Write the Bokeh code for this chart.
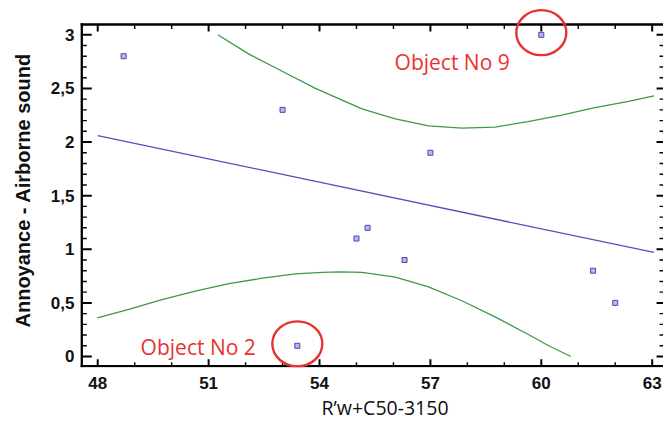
from bokeh.plotting import figure
from bokeh.models import Range1d, FixedTicker, Title
from bokeh.embed import file_html
from bokeh.resources import INLINE
from bokeh.core.properties import value

# ---------------- data ----------------
x_obs = [48.7, 53.0, 60.0, 57.0, 55.0, 55.3, 56.3, 61.4, 62.0, 53.4]
y_obs = [2.8, 2.3, 3.0, 1.9, 1.1, 1.2, 0.9, 0.8, 0.5, 0.1]

reg_x = [48.0, 63.05]
reg_y = [2.06, 0.97]

upper_x = [51.25, 52.09, 52.99, 53.89, 55.15, 56.05, 56.95, 57.85, 58.75,
           59.64, 60.55, 61.45, 62.36, 63.05]
upper_y = [3.0, 2.82, 2.66, 2.50, 2.31, 2.215, 2.15, 2.13, 2.14,
           2.19, 2.25, 2.32, 2.38, 2.43]

lower_x = [47.99, 48.84, 49.74, 50.64, 51.55, 52.45, 53.35, 54.07, 54.6,
           55.15, 56.05, 56.95, 57.85, 58.75, 59.65, 60.2, 60.8]
lower_y = [0.36, 0.44, 0.53, 0.61, 0.68, 0.73, 0.77, 0.785, 0.79,
           0.785, 0.74, 0.65, 0.52, 0.37, 0.205, 0.10, 0.0]

x_ticks = [48, 51, 54, 57, 60, 63]
x_tick_labels = ["48", "51", "54", "57", "60", "63"]
x_minor = [t for t in range(48, 64) if t not in x_ticks]
y_ticks = [0, 0.5, 1, 1.5, 2, 2.5, 3]
y_tick_labels = ["0", "0,5", "1", "1,5", "2", "2,5", "3"]
y_minor = [round(i / 10, 1) for i in range(0, 31) if i % 5 != 0]

x_title = "R\u2019w+C50-3150"
y_title = "Annoyance - Airborne sound"

callout_text = ["Object No 9", "Object No 2"]
callout_x = [56.03, 49.16]
callout_y = [2.751, 0.087]
circle_x = [60.0, 53.40]
circle_y = [3.02, 0.118]

# ---------------- layout (pixels of the 663x425 page) ----------------
W, H = 663, 425
FL, FR, FT, FB = 77, 663, 0, 367          # plot frame box
X_LO, X_HI = 47.507, 63.306
Y_LO, Y_HI = -0.1026, 3.320
PXX = (FR - FL) / (X_HI - X_LO)
PXY = (FB - FT) / (Y_HI - Y_LO)

BOX_L, BOX_T, BOX_B, BOX_R = 79.3, 24.0, 365.7, 663.0
BW = 2.3


def dx(px):
    return X_LO + (px - FL) / PXX


def dy(py):
    return Y_HI - (py - FT) / PXY


INK = "#000000"
RED = "#e8322f"
BLUE = "#5050b8"
GREEN = "#3c9a46"

p = figure(width=W, height=H,
           x_range=Range1d(X_LO, X_HI), y_range=Range1d(Y_LO, Y_HI),
           output_backend="svg", toolbar_location=None,
           min_border_left=FL, min_border_right=0, min_border_top=0,
           min_border_bottom=H - FB)
p.xgrid.visible = False
p.ygrid.visible = False
p.outline_line_color = None
p.background_fill_color = "white"
p.border_fill_color = "white"


def style_axis(ax, ticks, labels, standoff):
    ax.ticker = FixedTicker(ticks=ticks)
    ax.major_label_overrides = {t: s for t, s in zip(ticks, labels)}
    ax.axis_line_color = None
    ax.major_tick_line_color = None
    ax.minor_tick_line_color = None
    ax.major_tick_in = 0
    ax.major_tick_out = 0
    ax.minor_tick_in = 0
    ax.minor_tick_out = 0
    ax.major_label_standoff = standoff
    ax.major_label_text_font = "Liberation Sans"
    ax.major_label_text_font_style = "bold"
    ax.major_label_text_font_size = "17px"
    ax.major_label_text_color = "#111111"


style_axis(p.xaxis[0], x_ticks, x_tick_labels, 9)
style_axis(p.yaxis[0], y_ticks, y_tick_labels, 5)

hb = BW / 2
# box border, one strip per side
p.quad(left=[dx(BOX_L - hb)], right=[dx(BOX_L + hb)],
       top=[dy(BOX_T - hb)], bottom=[dy(BOX_B + hb)],
       fill_color=INK, line_color=None)
p.quad(left=[dx(BOX_L - hb)], right=[dx(BOX_R)],
       top=[dy(BOX_T - hb)], bottom=[dy(BOX_T + hb)],
       fill_color=INK, line_color=None)
p.quad(left=[dx(BOX_L - hb)], right=[dx(BOX_R)],
       top=[dy(BOX_B - hb)], bottom=[dy(BOX_B + hb)],
       fill_color=INK, line_color=None)


def vticks(xs, y_edge, length, thick, down):
    t = thick / 2
    y2 = y_edge + length if down else y_edge - length
    p.quad(left=[x - t / PXX for x in xs], right=[x + t / PXX for x in xs],
           top=[dy(min(y_edge, y2))] * len(xs),
           bottom=[dy(max(y_edge, y2))] * len(xs),
           fill_color=INK, line_color=None)


def hticks(ys, x_edge, length, thick, right):
    t = thick / 2
    x2 = x_edge + length if right else x_edge - length
    p.quad(left=[dx(min(x_edge, x2))] * len(ys),
           right=[dx(max(x_edge, x2))] * len(ys),
           top=[y + t / PXY for y in ys], bottom=[y - t / PXY for y in ys],
           fill_color=INK, line_color=None)


vticks(x_ticks, BOX_B, 7, 2.0, False)
vticks(x_minor, BOX_B, 4, 1.4, False)
vticks(x_ticks, BOX_T, 7, 2.0, True)
vticks(x_minor, BOX_T, 4.5, 1.4, True)
hticks(y_ticks, BOX_L, 10, 2.0, True)
hticks(y_minor, BOX_L, 5, 1.4, True)
hticks(y_ticks, BOX_R, 7, 2.0, False)
hticks(y_minor, BOX_R, 4, 1.4, False)

yt = Title(text=y_title, align="left", offset=40, standoff=23,
           vertical_align="top",
           text_font="Liberation Sans", text_font_style="bold",
           text_font_size="20px", text_color="#111111")
p.add_layout(yt, "left")
xt = Title(text=x_title, align="left", offset=242, standoff=1,
           vertical_align="bottom",
           text_font="Open Sans", text_font_style="normal",
           text_font_size="19.5px", text_color="#111111")
p.add_layout(xt, "below")

p.line(upper_x, upper_y, line_color=GREEN, line_width=1.3)
p.line(lower_x, lower_y, line_color=GREEN, line_width=1.3)
p.line(reg_x, reg_y, line_color=BLUE, line_width=1.3)

p.scatter(x_obs, y_obs, marker="square", size=5, line_color="#4646b4",
          fill_color="#b8b8ea", line_width=1)

p.ellipse(x=circle_x, y=circle_y, width=50, height=45,
          width_units="screen", height_units="screen",
          fill_color=None, line_color=RED, line_width=2.4)
p.text(x=callout_x, y=callout_y, text=callout_text,
       text_font=value("Open Sans"), text_font_size="21px",
       text_color=RED, text_align="left", text_baseline="alphabetic")

open("out.html", "w").write(file_html(p, INLINE))
